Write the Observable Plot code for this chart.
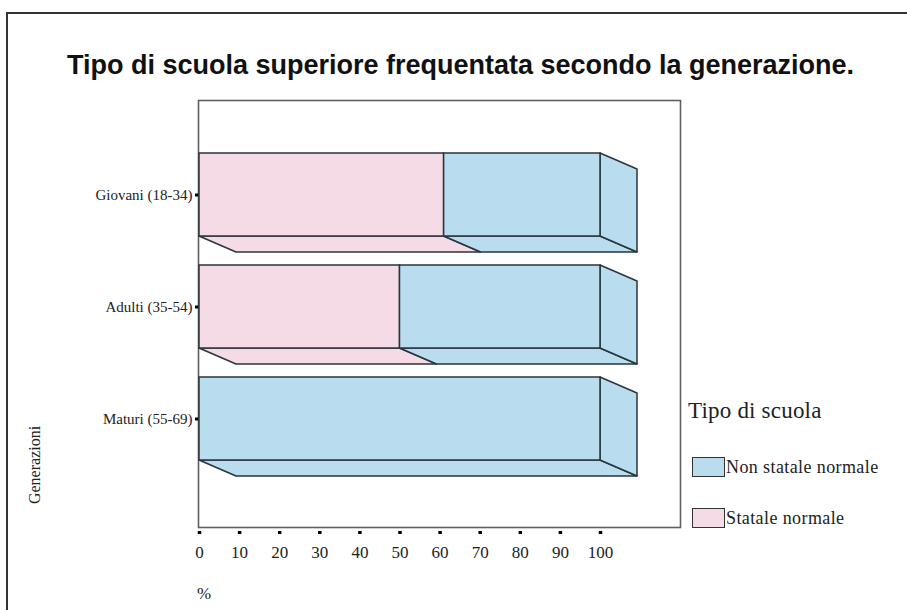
<!DOCTYPE html>
<html>
<head>
<meta charset="utf-8">
<script src="https://cdn.jsdelivr.net/npm/d3@7"></script>
<script src="https://cdn.jsdelivr.net/npm/@observablehq/plot@0.6"></script>
<style>
  html, body { margin: 0; padding: 0; background: #fff; }
  #wrap { position: relative; width: 907px; height: 610px; overflow: hidden; font-family: "Liberation Serif", "DejaVu Serif", serif; color: #222; }
  #outer { position: absolute; left: 6px; top: 12px; width: 1000px; height: 700px; border-left: 2px solid #333; border-top: 2px solid #333; box-sizing: border-box; }
  #title { position: absolute; left: 0; width: 921px; top: 52px; line-height: 27px; text-align: center; font-family: "Liberation Sans", Arial, sans-serif; font-weight: bold; font-size: 27px; color: #111; white-space: nowrap; }
  #chart { position: absolute; left: 0; top: 0; }
  #ytitle { position: absolute; left: 35px; top: 465px; transform: translate(-50%, -50%) rotate(-90deg); font-size: 16px; white-space: nowrap; }
  #xtitle { position: absolute; left: 197px; top: 584px; font-size: 17px; }
  #legend-title { position: absolute; left: 688px; top: 398px; font-size: 23px; letter-spacing: 0.2px; white-space: nowrap; }
  .lg-item { position: absolute; left: 692px; height: 20px; display: flex; align-items: center; font-size: 18px; letter-spacing: 0.4px; white-space: nowrap; }
  .lg-sw { width: 31px; height: 18px; border: 1.5px solid #333; margin-right: 1px; flex: none; }
</style>
</head>
<body>
<div id="wrap">
  <div id="outer"></div>
  <div id="title"></div>
  <div id="chart"></div>
  <div id="ytitle"></div>
  <div id="xtitle"></div>
  <div id="legend-title"></div>
</div>
<script>
// ---- data ----
const titleText = "Tipo di scuola superiore frequentata secondo la generazione.";
const generations = ["Giovani (18-34)", "Adulti (35-54)", "Maturi (55-69)"];
const seriesNames = ["Statale normale", "Non statale normale"];
const statale = [61, 50, 0];
const nonStatale = [39, 50, 100];
const xTicks = [0, 10, 20, 30, 40, 50, 60, 70, 80, 90, 100];
const seriesColors = ["#f4dbe6", "#b9dcee"];
const legendOrder = ["Non statale normale", "Statale normale"];
const legendTitle = "Tipo di scuola";
const yTitle = "Generazioni";
const xTitle = "%";

// ---- build stacked segments ----
const segments = [];
generations.forEach((g, i) => {
  const vals = [statale[i], nonStatale[i]];
  let acc = 0;
  const total = vals.reduce((a, b) => a + b, 0);
  vals.forEach((v, k) => {
    if (v > 0) {
      segments.push({gen: g, series: seriesNames[k], x1: acc, x2: acc + v, last: acc + v === total});
    }
    acc += v;
  });
});

const EDGE = "#2a343d";
const EDGE_W = 1.5;
const DEPTH_X = 37, DEPTH_Y = 16;

function sideFaces(index, scales, values) {
  const X1 = values.x1, X2 = values.x2, Y = values.y, F = values.fill;
  const bw = scales.y.bandwidth();
  const g = d3.create("svg:g");
  for (const i of index) {
    const x1 = X1[i], x2 = X2[i], yt = Y[i], yb = Y[i] + bw;
    g.append("path")
      .attr("d", `M${x1},${yb}L${x2},${yb}L${x2 + DEPTH_X},${yb + DEPTH_Y}L${x1 + DEPTH_X},${yb + DEPTH_Y}Z`)
      .attr("fill", F[i]).attr("stroke", EDGE).attr("stroke-width", EDGE_W).attr("stroke-linejoin", "round");
    if (segments[i].last) {
      g.append("path")
        .attr("d", `M${x2},${yt}L${x2 + DEPTH_X},${yt + DEPTH_Y}L${x2 + DEPTH_X},${yb + DEPTH_Y}L${x2},${yb}Z`)
        .attr("fill", F[i]).attr("stroke", EDGE).attr("stroke-width", EDGE_W).attr("stroke-linejoin", "round");
    }
  }
  return g.node();
}

const serif = "Liberation Serif, DejaVu Serif, serif";

const chart = Plot.plot({
  width: 907,
  height: 610,
  marginLeft: 198,
  marginRight: 227,
  marginTop: 100,
  marginBottom: 83,
  style: {background: "transparent", fontFamily: serif, color: "#222"},
  x: {domain: [0, 100], range: [199, 600]},
  y: {domain: generations, range: [152, 461], paddingInner: 0.255, paddingOuter: 0},
  color: {domain: seriesNames, range: seriesColors},
  marks: [
    Plot.frame({stroke: "#606060", strokeWidth: 1.6}),
    Plot.barX(segments, {x1: "x1", x2: "x2", y: "gen", fill: "series", render: sideFaces}),
    Plot.barX(segments, {x1: "x1", x2: "x2", y: "gen", fill: "series", stroke: EDGE, strokeWidth: EDGE_W}),
    Plot.axisY({tickSize: 3, tickPadding: 3, strokeWidth: 3, stroke: "#000", fontSize: 15, fontFamily: serif, label: null}),
    Plot.axisX(xTicks, {tickSize: 3, dy: 4, tickPadding: 11, strokeWidth: 3.5, stroke: "#000", fontSize: 17, fontFamily: serif, label: null})
  ]
});
document.getElementById("chart").appendChild(chart);

document.getElementById("title").textContent = titleText;
document.getElementById("ytitle").textContent = yTitle;
document.getElementById("xtitle").textContent = xTitle;
document.getElementById("legend-title").textContent = legendTitle;

const wrap = document.getElementById("wrap");
legendOrder.forEach((name, k) => {
  const item = document.createElement("div");
  item.className = "lg-item";
  item.style.top = (457 + k * 51) + "px";
  const sw = document.createElement("div");
  sw.className = "lg-sw";
  sw.style.background = seriesColors[seriesNames.indexOf(name)];
  const lab = document.createElement("span");
  lab.textContent = name;
  item.appendChild(sw);
  item.appendChild(lab);
  wrap.appendChild(item);
});
</script>
</body>
</html>
